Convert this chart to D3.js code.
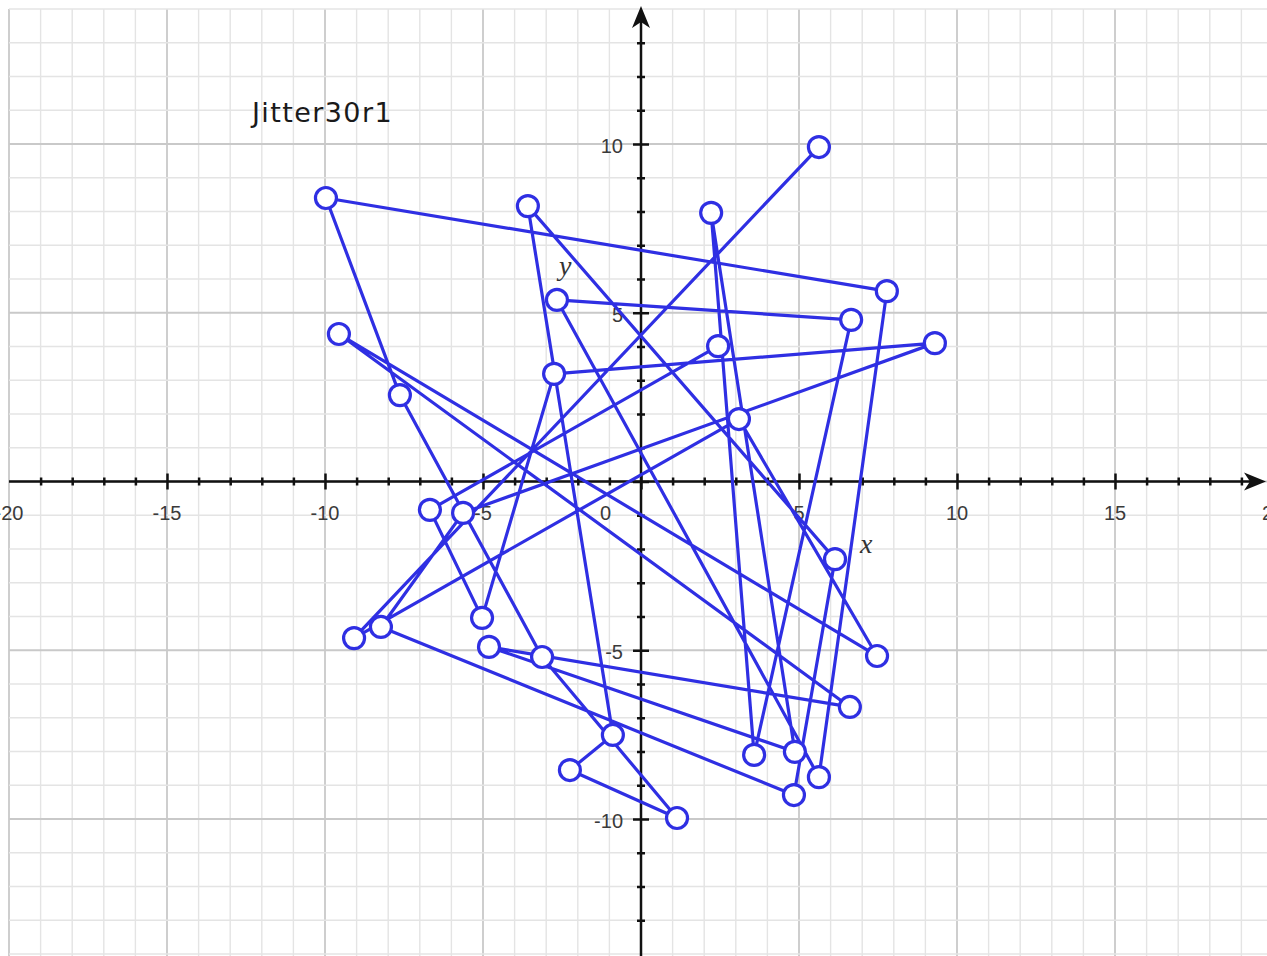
<!DOCTYPE html>
<html>
<head>
<meta charset="utf-8">
<script src="https://cdn.jsdelivr.net/npm/d3@7"></script>
<style>
  body { margin: 0; background: #fff; }
  svg { display: block; }
</style>
</head>
<body>
<svg id="boi" width="1267" height="956"></svg>
<script>
"use strict";

// point positions (index = point number - 1)
const ptX = [5.63, -9.97, -3.58, 2.22, 7.78, -2.66, 6.65, -9.56, 9.30, 2.44,
             -2.75, -7.63, 3.10, -6.68, -5.63, 6.14, -5.03, -4.81, -8.23, -9.08,
             -3.13, 7.47, 6.61, -0.89, 3.58, 4.87, -2.25, 5.63, 4.84, 1.14];
const ptY = [9.91, 8.40, 8.16, 7.96, 5.64, 5.38, 4.79, 4.37, 4.10, 4.01,
             3.19, 2.56, 1.85, -0.84, -0.93, -2.30, -4.04, -4.90, -4.31, -4.64,
             -5.20, -5.17, -6.68, -7.51, -8.10, -8.01, -8.55, -8.76, -9.29, -9.97];

// order the points get joined in
const pathOrder = [10, 14, 17, 11, 9, 15, 19, 29, 16, 3, 24, 27, 30, 21, 12, 2, 5, 28,
                   6, 7, 25, 4, 26, 18, 23, 8, 22, 13, 20, 1];

const xTicks = [-20, -15, -10, -5, 0, 5, 10, 15, 20];
const yTicks = [-10, -5, 5, 10];
const title = "Jitter30r1";

(() => {
	const svg = d3.select("#boi");
	const blue = "#2f2fe3";

	const x = d3.scaleLinear().domain([-20, 20]).range([9, 1273]);
	const y = d3.scaleLinear().domain([-14, 14]).range([954, 9]);

	// graph paper: light lines every unit, darker every 5
	const gx = d3.range(-20, 21), gy = d3.range(-14, 15);
	const grid = svg.append("g");
	grid.selectAll(".vx").data(gx).enter().append("line")
		.attr("x1", d => x(d)).attr("x2", d => x(d))
		.attr("y1", y(14)).attr("y2", 956)
		.attr("stroke", d => d % 5 === 0 ? "#c9c9c9" : "#e4e4e4")
		.attr("stroke-width", d => d % 5 === 0 ? 1.8 : 1.4);
	grid.selectAll(".hy").data(gy).enter().append("line")
		.attr("y1", d => y(d)).attr("y2", d => y(d))
		.attr("x1", x(-20)).attr("x2", 1267)
		.attr("stroke", d => d % 5 === 0 ? "#c9c9c9" : "#e4e4e4")
		.attr("stroke-width", d => d % 5 === 0 ? 1.8 : 1.4);

	// axes through the origin
	const xAxis = d3.axisBottom(x).tickValues(d3.range(-19, 20)).tickSize(3).tickFormat("");
	const yAxis = d3.axisLeft(y).tickValues(d3.range(-13, 14)).tickSize(3).tickFormat("");
	const ax = svg.append("g").attr("transform", `translate(0,${y(0)})`).call(xAxis);
	const ay = svg.append("g").attr("transform", `translate(${x(0)},0)`).call(yAxis);
	[ax, ay].forEach(g => {
		g.select(".domain").remove();
		g.selectAll(".tick line").attr("stroke", "#111").attr("stroke-width", 2.5);
	});
	ax.selectAll(".tick line").attr("y1", -4).attr("y2", 4)
		.filter(d => d % 5 === 0).attr("y1", -8).attr("y2", 8);
	ay.selectAll(".tick line").attr("x1", -4).attr("x2", 4)
		.filter(d => d % 5 === 0).attr("x1", -8).attr("x2", 8);

	svg.append("line").attr("x1", x(-20)).attr("x2", 1258)
		.attr("y1", y(0)).attr("y2", y(0)).attr("stroke", "#111").attr("stroke-width", 2.5);
	svg.append("line").attr("x1", x(0)).attr("x2", x(0))
		.attr("y1", 956).attr("y2", 16).attr("stroke", "#111").attr("stroke-width", 2.5);
	// arrow heads
	svg.append("path")
		.attr("d", `M1266,${y(0)} L1244,${y(0) - 9} L1250,${y(0)} L1244,${y(0) + 9} Z`)
		.attr("fill", "#111");
	svg.append("path")
		.attr("d", `M${x(0)},6 L${x(0) - 9},28 L${x(0)},22 L${x(0) + 9},28 Z`)
		.attr("fill", "#111");

	// tick numbers
	const lab = svg.append("g")
		.attr("font-family", "Helvetica, 'Liberation Sans', Arial, sans-serif")
		.attr("font-size", 20).attr("fill", "#3a3a3a");
	lab.selectAll(".xl").data(xTicks).enter().append("text")
		.attr("x", d => d === 0 ? x(0) - 41 : x(d))
		.attr("y", y(0) + 38)
		.attr("text-anchor", d => d === 0 ? "start" : "middle")
		.text(d => d);
	lab.selectAll(".yl").data(yTicks).enter().append("text")
		.attr("x", x(0) - 18)
		.attr("y", d => y(d) + 9)
		.attr("text-anchor", "end")
		.text(d => d);

	svg.append("text").attr("x", 860).attr("y", 553)
		.attr("font-family", "'Liberation Serif', 'DejaVu Serif', serif")
		.attr("font-style", "italic").attr("font-size", 28).attr("fill", "#333").text("x");
	svg.append("text").attr("x", 559).attr("y", 275)
		.attr("font-family", "'Liberation Serif', 'DejaVu Serif', serif")
		.attr("font-style", "italic").attr("font-size", 28).attr("fill", "#333").text("y");

	svg.append("text").attr("x", 252).attr("y", 122)
		.attr("font-family", "'DejaVu Sans', sans-serif")
		.attr("font-size", 27).attr("letter-spacing", 1.4)
		.attr("fill", "#1a1a1a").text(title);

	// the jitter walk
	const pts = pathOrder.map(i => [ptX[i - 1], ptY[i - 1]]);
	const line = d3.line().x(d => x(d[0])).y(d => y(d[1]));
	svg.append("path").datum(pts)
		.attr("d", line)
		.attr("fill", "none")
		.attr("stroke", blue)
		.attr("stroke-width", 3.2)
		.attr("stroke-linejoin", "round");

	svg.selectAll("circle")
		.data(pts).enter()
		.append("circle")
		.attr("cx", d => x(d[0]))
		.attr("cy", d => y(d[1]))
		.attr("r", 10.5)
		.attr("fill", "white")
		.attr("stroke", blue)
		.attr("stroke-width", 3.2);
})();
</script>
</body>
</html>
